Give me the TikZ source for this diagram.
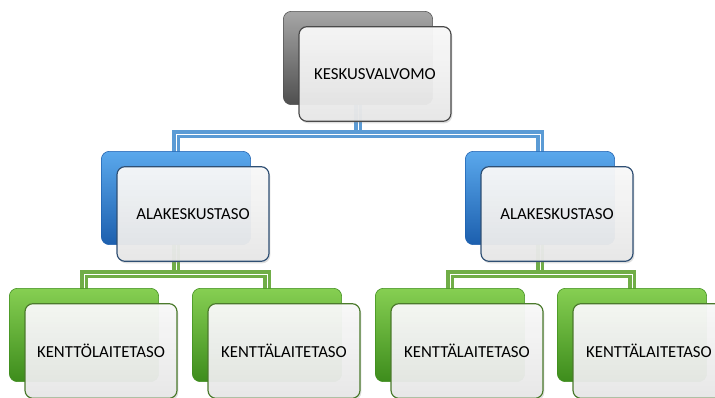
\documentclass[tikz,border=0pt]{standalone}
\usepackage{fontspec}
\setmainfont{Carlito}
\usetikzlibrary{shadows}

\definecolor{grayhi}{HTML}{A6A6A6}
\definecolor{graylo}{HTML}{4F4F4F}
\definecolor{grayedge}{HTML}{4A4A4A}
\definecolor{bluehi}{HTML}{5AA8EC}
\definecolor{bluelo}{HTML}{1C5FAE}
\definecolor{blueedge}{HTML}{2F4F73}
\definecolor{greenhi}{HTML}{86CF52}
\definecolor{greenlo}{HTML}{3D8C1C}
\definecolor{greenedge}{HTML}{4B7A2C}
\definecolor{connblue}{HTML}{5B9BD5}
\definecolor{conngreen}{HTML}{70AD47}

\begin{document}
\begin{tikzpicture}[x=0.75pt,y=-0.75pt]
\tikzstyle{back}=[rectangle,rounded corners=6pt,minimum width=112pt,minimum height=70pt,inner sep=0pt]
\tikzstyle{grayback}=[back,top color=grayhi,bottom color=graylo,draw=graylo]
\tikzstyle{blueback}=[back,top color=bluehi,bottom color=bluelo,draw=bluelo]
\tikzstyle{greenback}=[back,top color=greenhi,bottom color=greenlo,draw=greenlo]
\tikzstyle{front}=[rectangle,rounded corners=6pt,minimum width=114pt,minimum height=71pt,inner sep=0pt,
  top color=white!96!gray,bottom color=gray!18,fill opacity=0.95,text opacity=1,line width=0.9pt,
  font=\fontsize{12.6}{14}\selectfont,drop shadow={opacity=0.25,shadow xshift=1pt,shadow yshift=-1.5pt}]
\tikzstyle{grayfront}=[front,draw=grayedge]
\tikzstyle{bluefront}=[front,draw=blueedge]
\tikzstyle{greenfront}=[front,draw=greenedge]
\tikzstyle{blueconn}=[draw=connblue,line width=2.4pt,double=white,double distance=0.7pt]
\tikzstyle{greenconn}=[draw=conngreen,line width=2.4pt,double=white,double distance=0.7pt]
\def \dx {17}
\def \dy {16}
\useasboundingbox (0,0) rectangle (715,398);

% connectors, behind the boxes
\coordinate (topbus) at (358,134);
\coordinate (leftbus) at (176,274);
\coordinate (rightbus) at (540,274);
\path[blueconn] (358,100) -- (topbus) -| (176,152);
\path[blueconn] (topbus) -| (540,152);
\path[greenconn] (176,240) -- (leftbus) -| (84,290);
\path[greenconn] (leftbus) -| (267,290);
\path[greenconn] (540,240) -- (rightbus) -| (450,290);
\path[greenconn] (rightbus) -| (632,290);

% back boxes
\node[grayback] (top) at (358,58) {};
\node[blueback] (midl) at (176,198) {};
\node[blueback] (midr) at (540,198) {};
\node[greenback] (bot1) at (84,335) {};
\node[greenback] (bot2) at (267,335) {};
\node[greenback] (bot3) at (450,335) {};
\node[greenback] (bot4) at (632,335) {};

% front boxes with the texts
\node[grayfront] (topf) at (358+\dx,58+\dy) {KESKUSVALVOMO};
\node[bluefront] (midlf) at (176+\dx,198+\dy) {ALAKESKUSTASO};
\node[bluefront] (midrf) at (540+\dx,198+\dy) {ALAKESKUSTASO};
\node[greenfront] (bot1f) at (84+\dx,335+\dy) {KENTTÖLAITETASO};
\node[greenfront] (bot2f) at (267+\dx,335+\dy) {KENTTÄLAITETASO};
\node[greenfront] (bot3f) at (450+\dx,335+\dy) {KENTTÄLAITETASO};
\node[greenfront] (bot4f) at (632+\dx,335+\dy) {KENTTÄLAITETASO};
\end{tikzpicture}
\end{document}
